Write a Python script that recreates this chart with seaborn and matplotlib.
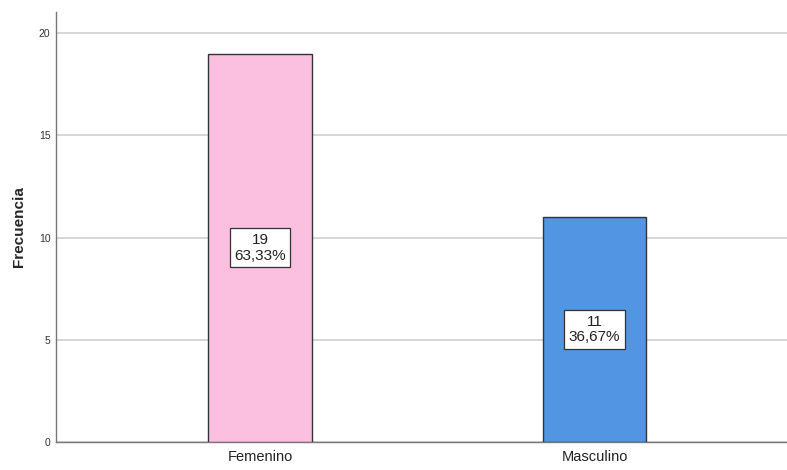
import matplotlib
matplotlib.use("Agg")
import matplotlib.pyplot as plt
import seaborn as sns
import pandas as pd

categories = ["Femenino", "Masculino"]
counts = [19, 11]
percent_labels = ["63,33%", "36,67%"]
colors = ["#FBC0E0", "#5295E3"]

sns.set_theme(style="white")
plt.rcParams['font.family'] = ['Liberation Sans', 'DejaVu Sans']

df = pd.DataFrame({"Sexo": categories, "Frecuencia": counts})

fig = plt.figure(figsize=(7.87, 4.70), dpi=100)
ax = fig.add_axes([56/787, 28/470, (787-56)/787, (442-12)/470])

sns.barplot(data=df, x="Sexo", y="Frecuencia", hue="Sexo", palette=colors,
            legend=False, width=0.31, edgecolor="#333333", linewidth=1.0,
            saturation=1, ax=ax, zorder=3)

ax.set_xlim(-0.61, 1.575)
ax.set_ylim(0, 21.03)
ax.set_yticks([0, 5, 10, 15, 20])
ax.set_yticklabels(["0", "5", "10", "15", "20"], fontsize=7.5, color="#333333")
ax.tick_params(axis="x", labelsize=10.5, colors="#222222", length=0, pad=6)
ax.tick_params(axis="y", length=0, pad=4)
ax.yaxis.grid(True, color="#d0d0d0", linewidth=1.2, zorder=0)
ax.set_axisbelow(True)
ax.set_xlabel("")
ax.set_ylabel("Frecuencia", fontsize=11, fontweight="bold", labelpad=9)

for s in ["top", "right"]:
    ax.spines[s].set_visible(False)
for s in ["left", "bottom"]:
    ax.spines[s].set_color("#777777")
    ax.spines[s].set_linewidth(1.0)

for i, (c, p) in enumerate(zip(counts, percent_labels)):
    ax.text(i, c / 2, f"{c}\n{p}", ha="center", va="center", fontsize=11,
            color="#222222", linespacing=1.15, zorder=5,
            bbox=dict(boxstyle="square,pad=0.3", facecolor="white",
                      edgecolor="#333333", linewidth=0.9))

fig.savefig("out.png", dpi=100)
